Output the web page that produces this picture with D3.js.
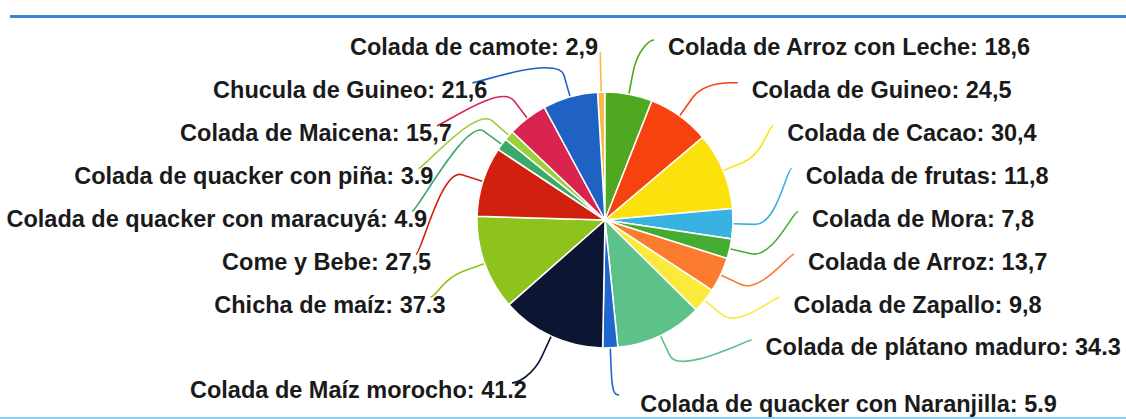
<!DOCTYPE html>
<html>
<head>
<meta charset="utf-8">
<script src="https://cdn.jsdelivr.net/npm/d3@7"></script>
<style>
  html, body { margin: 0; padding: 0; background: #fff; }
  svg { display: block; }
  .label {
    font-family: "Liberation Sans", Arial, sans-serif;
    font-weight: bold;
    font-size: 23.5px;
    fill: #1a1a1a;
  }
</style>
</head>
<body>
<div id="chart"></div>
<script>
// slices, clockwise from the top
const categories = [
  "Colada de camote", "Colada de Arroz con Leche", "Colada de Guineo", "Colada de Cacao",
  "Colada de frutas", "Colada de Mora", "Colada de Arroz", "Colada de Zapallo",
  "Colada de plátano maduro", "Colada de quacker con Naranjilla", "Colada de Maíz morocho",
  "Chicha de maíz", "Come y Bebe", "Colada de quacker con maracuyá",
  "Colada de quacker con piña", "Colada de Maicena", "Chucula de Guineo"
]
const values = [2.9, 18.6, 24.5, 30.4, 11.8, 7.8, 13.7, 9.8, 34.3, 5.9, 41.2, 37.3, 27.5, 4.9, 3.9, 15.7, 21.6]
// values as printed in the labels (mixed separators in the original)
const valueLabels = ["2,9", "18,6", "24,5", "30,4", "11,8", "7,8", "13,7", "9,8", "34.3", "5.9", "41.2", "37.3", "27,5", "4.9", "3.9", "15,7", "21,6"]

const colors = [
  "#f8b84a", "#4fa81f", "#f6420f", "#fbe20c", "#38b2e2", "#44ad31", "#fb7b2f", "#fbea3c",
  "#5cc28a", "#1f67cf", "#0c1632", "#8ec21d", "#d2200f", "#3aa96a", "#9dcf3b", "#d92450", "#1f62c4"
]
// label row on each side of the pie
const labelSlot = [0, 0, 1, 2, 3, 4, 5, 6, 7, 8.33, 8, 6, 5, 4, 3, 2, 1]

const svgWidth = 1126
const svgHeight = 419
const cx = 605, cy = 220, radius = 128

const svg = d3.select("#chart").append("svg")
    .attr("width", svgWidth)
    .attr("height", svgHeight)

// frame rules
svg.append("line")
    .attr("x1", 10).attr("x2", svgWidth)
    .attr("y1", 16.5).attr("y2", 16.5)
    .attr("stroke", "#3b86d4")
    .attr("stroke-width", 3)
svg.append("line")
    .attr("x1", 0).attr("x2", svgWidth)
    .attr("y1", 418).attr("y2", 418)
    .attr("stroke", "#8fcdf2")
    .attr("stroke-width", 2)

const total = d3.sum(values)
const offset = -values[0] / total * 2 * Math.PI

const pie = d3.pie()
    .sort(null)
    .value(d => d)
    .startAngle(offset)
    .endAngle(offset + 2 * Math.PI)

const arcs = pie(values)
const arcGen = d3.arc().innerRadius(0).outerRadius(radius)

const rowY = d3.scaleLinear().domain([0, 7]).range([47, 347])

// ring where connectors meet the labels
function ringX(y) {
    const dy = y - 215
    const b = dy < 0 ? 180 : 190
    return 188 * Math.sqrt(Math.max(0, 1 - (dy / b) * (dy / b)))
}

arcs.forEach((d, i) => {
    const mid = (d.startAngle + d.endAngle) / 2
    const deg = ((mid * 180 / Math.PI) % 360 + 360) % 360
    d.right = deg < 180
    d.top = deg < 90 || deg > 270
    d.vertical = Math.min(deg, 360 - deg, Math.abs(180 - deg)) < 5
    d.base = [cx + radius * Math.sin(mid), cy - radius * Math.cos(mid)]
    d.brk = [cx + (radius + 22) * Math.sin(mid), cy - (radius + 22) * Math.cos(mid)]
    d.ty = rowY(labelSlot[i])
    const dir = d.right ? 1 : -1
    if (d.vertical && d.top) {
        d.conn = [d.brk[0], d.ty + 6]
        d.hook = 0
        d.tx = d.conn[0] - 2.5
        d.anchor = "end"
    } else if (d.vertical) {
        d.conn = [d.brk[0] + 3, d.ty - 9]
        d.hook = 5
        d.tx = d.conn[0] + 26
        d.anchor = "start"
    } else {
        const y = d.ty - 7
        d.conn = [cx + dir * ringX(y), y]
        d.hook = 5
        d.tx = d.right ? d.conn[0] + 19 : d.conn[0] + 10
        d.anchor = d.right ? "start" : "end"
    }
    d.dir = dir
})

function connector(d) {
    const p = d3.path()
    p.moveTo(d.conn[0] + d.hook * d.dir, d.conn[1])
    p.bezierCurveTo(d.conn[0], d.conn[1],
        2 * d.brk[0] - d.base[0], 2 * d.brk[1] - d.base[1],
        d.brk[0], d.brk[1])
    p.lineTo(d.base[0], d.base[1])
    return p.toString()
}

svg.append("g")
    .selectAll("path")
    .data(arcs)
    .enter()
    .append("path")
    .attr("d", connector)
    .attr("fill", "none")
    .attr("stroke", (d, i) => colors[i])
    .attr("stroke-width", 1.6)

svg.append("g")
    .attr("transform", `translate(${cx},${cy})`)
    .selectAll("path")
    .data(arcs)
    .enter()
    .append("path")
    .attr("d", arcGen)
    .attr("fill", (d, i) => colors[i])
    .attr("stroke", "#fff")
    .attr("stroke-width", 1.5)

svg.append("g")
    .selectAll("text")
    .data(arcs)
    .enter()
    .append("text")
    .attr("class", "label")
    .attr("x", d => d.tx)
    .attr("y", d => d.ty)
    .attr("dy", "0.36em")
    .attr("text-anchor", d => d.anchor)
    .text((d, i) => categories[i] + ": " + valueLabels[i])
</script>
</body>
</html>
